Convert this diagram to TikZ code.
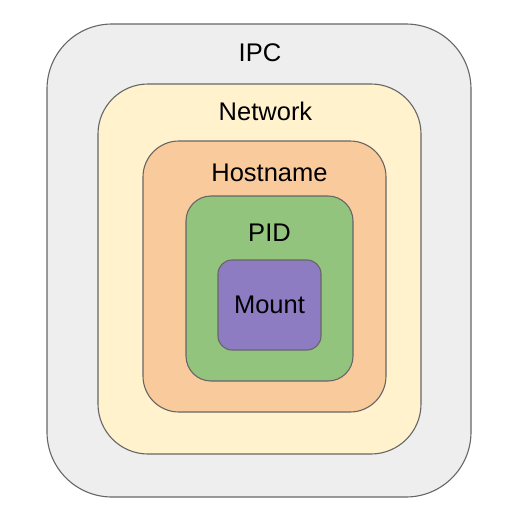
\documentclass[tikz,border=0pt]{standalone}
\usepackage{fontspec}
\setmainfont{Liberation Sans}
\begin{document}
\begin{tikzpicture}[x=1pt,y=-1pt,
  box/.style={draw=black!60, line width=1.1pt, inner sep=0pt},
  lbl/.style={anchor=base, inner sep=0pt, font=\fontsize{25.5}{30}\selectfont}]
\useasboundingbox (0,0) rectangle (523,522);
\definecolor{ipcc}{HTML}{EEEEEE}
\definecolor{netc}{HTML}{FFF2CC}
\definecolor{hostc}{HTML}{F9CB9C}
\definecolor{pidc}{HTML}{93C47D}
\definecolor{mntc}{HTML}{8E7CC3}
\node[box, fill=ipcc, rounded corners=65pt, minimum width=424pt, minimum height=473pt] (ipc) at (259,260.5) {};
\node[box, fill=netc, rounded corners=50pt, minimum width=323pt, minimum height=370pt] (net) at (259.5,269) {};
\node[box, fill=hostc, rounded corners=36pt, minimum width=243pt, minimum height=271pt] (host) at (264.5,276.5) {};
\node[box, fill=pidc, rounded corners=25pt, minimum width=167pt, minimum height=185pt] (pid) at (269.5,288.5) {};
\node[box, fill=mntc, rounded corners=14pt, minimum width=103pt, minimum height=90pt] (mnt) at (269.5,305) {};
\node[lbl] (tipc) at (260,61) {IPC};
\node[lbl] (tnet) at (265.5,120.5) {Network};
\node[lbl] (thost) at (269.5,181) {Hostname};
\node[lbl] (tpid) at (269.5,241) {PID};
\node[lbl] (tmnt) at (269.5,313) {Mount};
\end{tikzpicture}
\end{document}
